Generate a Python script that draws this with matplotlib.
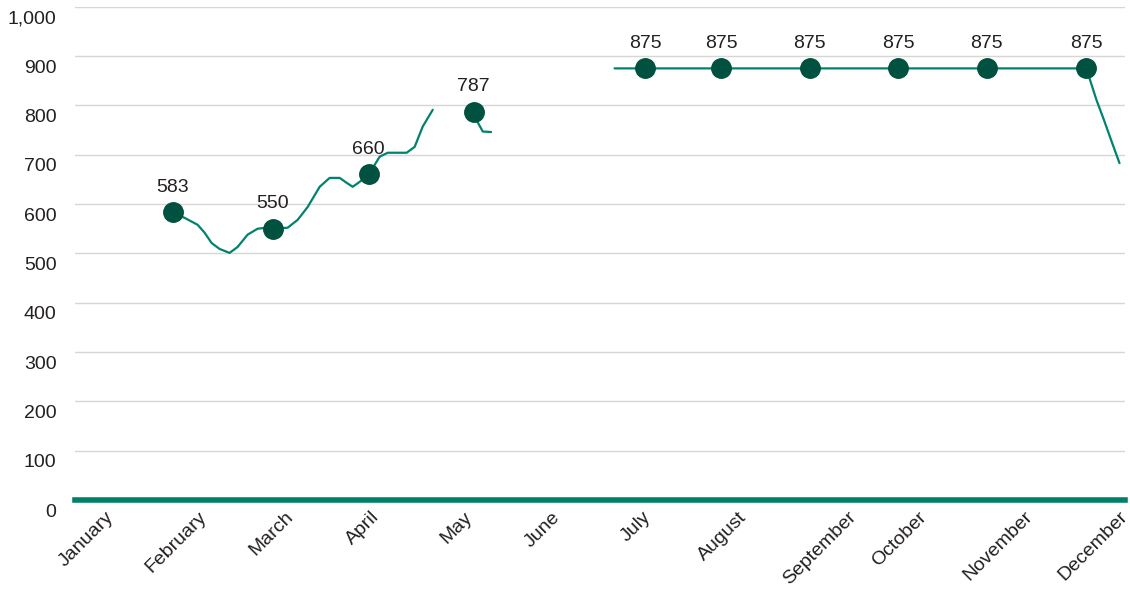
import matplotlib.pyplot as plt
import matplotlib.transforms as mtransforms
from matplotlib.ticker import FuncFormatter

# Dane: oś x w jednostkach "miesięcy" (0 = styczeń)
miesiace = ["January", "February", "March", "April", "May", "June",
            "July", "August", "September", "October", "November", "December"]
pozycje_miesiecy = [0.0, 1.0, 1.95, 2.88, 3.89, 4.84, 5.82, 6.87, 8.06, 8.82, 9.97, 11.0]

# linia ciągła - pierwszy odcinek
x_odc1 = [0.673, 0.804, 0.945, 1.021, 1.097, 1.184, 1.292, 1.379, 1.488, 1.596,
          1.694, 1.759, 1.922, 2.031, 2.139, 2.270, 2.378, 2.487, 2.563, 2.628,
          2.704, 2.802, 2.921, 3.008, 3.214, 3.301, 3.388, 3.497]
y_odc1 = [583, 572, 558, 542, 521, 509, 501, 513, 538, 550,
          552, 550, 552, 568, 594, 635, 653, 653, 643, 635,
          645, 660, 696, 704, 704, 716, 757, 791]

# drugi odcinek (krótki, po maju)
x_odc2 = [3.94, 3.99, 4.04, 4.13]
y_odc2 = [787, 764, 747, 746]

# trzeci odcinek (od lipca do grudnia)
x_odc3 = [5.47, 5.80, 6.63, 7.59, 8.55, 9.51, 10.59, 10.70, 10.78, 10.87, 10.95]
y_odc3 = [875, 875, 875, 875, 875, 875, 875, 811, 771, 724, 683]

# punkty z etykietami
x_punkty = [0.673, 1.759, 2.802, 3.94, 5.80, 6.63, 7.59, 8.55, 9.51, 10.59]
y_punkty = [583, 550, 660, 787, 875, 875, 875, 875, 875, 875]

kolor_linii = "#00836d"
kolor_punktu = "#00513f"
kolor_tekstu = "#231f20"

plt.rcParams["font.family"] = ["Liberation Sans", "DejaVu Sans"]

fig = plt.figure(figsize=(11.3, 5.89), dpi=100)
ax = fig.add_axes([0.066, 0.151, 0.9296, 0.8376])

# siatka pozioma
for v in range(100, 1001, 100):
    ax.axhline(v, color="#d6d6d6", linewidth=1, zorder=1)

for xs, ys in [(x_odc1, y_odc1), (x_odc2, y_odc2), (x_odc3, y_odc3)]:
    ax.plot(xs, ys, color=kolor_linii, linewidth=1.6, zorder=3,
            solid_joinstyle="round", solid_capstyle="round")
ax.plot(x_punkty, y_punkty, linestyle="none", marker="o", markersize=14,
        color=kolor_punktu, zorder=4)

for x, y in zip(x_punkty, y_punkty):
    ax.annotate(str(y), (x, y), xytext=(0, 12), textcoords="offset points",
                ha="center", va="bottom", fontsize=14, color=kolor_tekstu)

# gruba linia bazowa przy zerze
ax.axhline(0, color="#007f6b", linewidth=4, zorder=5, clip_on=False)

ax.set_xlim(-0.39, 11.01)
ax.set_ylim(0, 1000)
ax.set_yticks(range(0, 1001, 100))
ax.yaxis.set_major_formatter(FuncFormatter(lambda v, p: f"{int(v):,}"))
ax.set_xticks(pozycje_miesiecy)
ax.set_xticklabels(miesiace, rotation=45, ha="right", va="top",
                   rotation_mode="anchor")

ax.tick_params(axis="both", length=0, labelsize=14, colors=kolor_tekstu)
ax.tick_params(axis="y", pad=13)
ax.tick_params(axis="x", pad=6)

# etykiety osi y lekko przesunięte w dół, osi x w lewo
przes_y = mtransforms.ScaledTranslation(0, -10 / 100, fig.dpi_scale_trans)
for lab in ax.get_yticklabels():
    lab.set_transform(lab.get_transform() + przes_y)
przes_x = mtransforms.ScaledTranslation(-5 / 100, 0, fig.dpi_scale_trans)
for lab in ax.get_xticklabels():
    lab.set_transform(lab.get_transform() + przes_x)

for s in ax.spines.values():
    s.set_visible(False)

fig.savefig("out.png", dpi=100)
